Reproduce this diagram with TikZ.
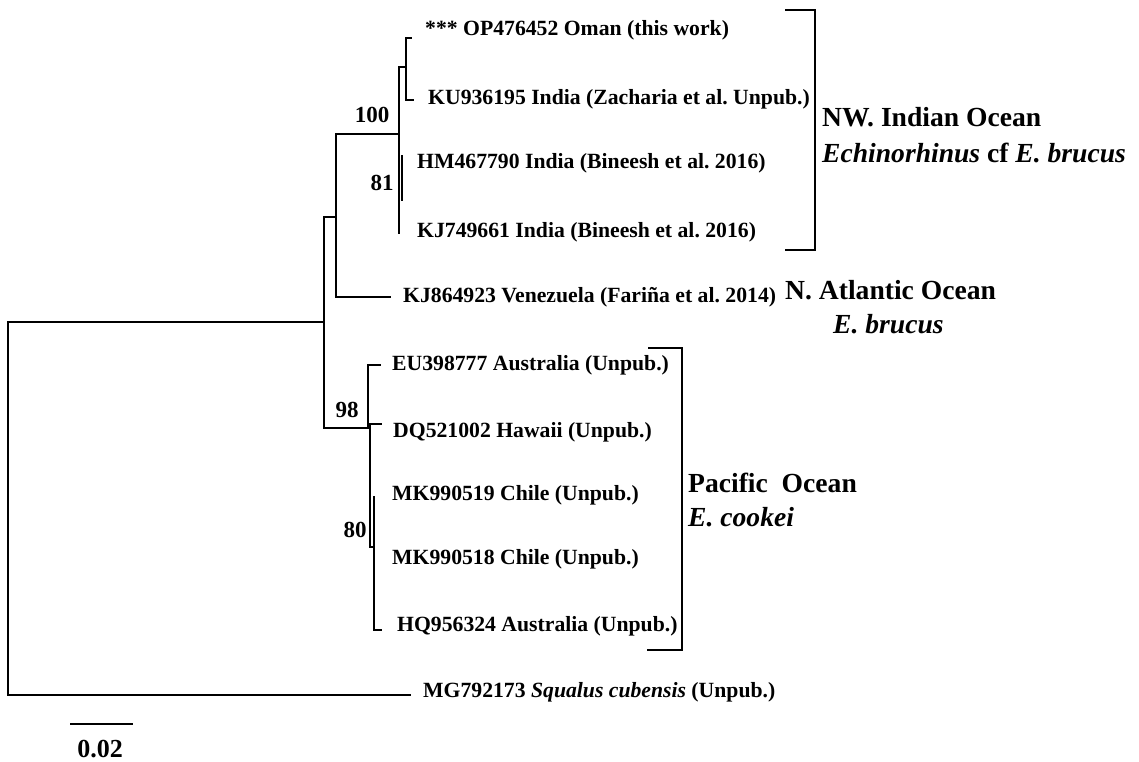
\documentclass[tikz,border=0pt]{standalone}
\usepackage{fontspec}
\setmainfont{Liberation Serif}
\begin{document}
\frenchspacing
\begin{tikzpicture}[x=1pt,y=1pt,
  br/.style={line width=2.5pt,line cap=rect,line join=miter},
  brk/.style={line width=2pt,line join=miter},
  leaf/.style={anchor=west,inner sep=0pt,font=\fontsize{21.7}{24}\selectfont\bfseries,text height=15pt,text depth=5pt},
  boot/.style={inner sep=0pt,font=\fontsize{23}{26}\selectfont\bfseries},
  grp/.style={anchor=west,inner sep=0pt,font=\fontsize{27.6}{30}\selectfont\bfseries,text height=19pt,text depth=6pt}]
\useasboundingbox (0,0) rectangle (1139,-762);
% coordinates of the tree
\coordinate (R0) at (8,-322);
\coordinate (R1) at (8,-695);
\coordinate (Otip) at (410,-695);
\coordinate (A0) at (324,-217);
\coordinate (A1) at (324,-322);
\coordinate (A2) at (324,-428);
\coordinate (B0) at (336,-134);
\coordinate (B1) at (336,-217);
\coordinate (B2) at (336,-297);
\coordinate (Katl) at (390,-297);
\coordinate (C0) at (399,-67);
\coordinate (C1) at (399,-134);
\coordinate (C2) at (399,-233);
\coordinate (D0) at (406,-38);
\coordinate (D1) at (406,-67);
\coordinate (D2) at (406,-100);
\coordinate (Toman) at (411,-38);
\coordinate (Tku) at (413,-100);
\coordinate (E0) at (402,-156);
\coordinate (E1) at (402,-200);
\coordinate (P0) at (368,-365);
\coordinate (P1) at (368,-428);
\coordinate (Teu) at (380,-365);
\coordinate (Q0) at (370,-424);
\coordinate (Q1) at (370,-547);
\coordinate (Q2) at (374,-547);
\coordinate (Tdq) at (381,-424);
\coordinate (S0) at (374,-497);
\coordinate (S1) at (374,-630);
\coordinate (Thq) at (381,-630);
% branches
\draw[br] (A1) -- (R0) -- (R1) -- (Otip);
\draw[br] (A0) -- (A2);
\draw[br] (A0) -- (B1);
\draw[br] (B0) -- (B2) -- (Katl);
\draw[br] (B0) -- (C1);
\draw[br] (C0) -- (C2);
\draw[br] (C0) -- (D1);
\draw[br] (Toman) -- (D0) -- (D2) -- (Tku);
\draw[br] (E0) -- (E1);
\draw[br] (A2) -- (P1) -- (P0) -- (Teu);
\draw[br] (Tdq) -- (Q0) -- (Q1) -- (Q2);
\draw[br] (S0) -- (S1) -- (Thq);
% leaf labels
\node[leaf] (l1) at (425,-31) {*** OP476452 Oman (this work)};
\node[leaf] (l2) at (428,-100) {KU936195 India (Zacharia et al. Unpub.)};
\node[leaf] (l3) at (417,-163) {HM467790 India (Bineesh et al. 2016)};
\node[leaf] (l4) at (417,-232) {KJ749661 India (Bineesh et al. 2016)};
\node[leaf] (l5) at (403,-297) {KJ864923 Venezuela (Fariña et al. 2014)};
\node[leaf] (l6) at (392,-365) {EU398777 Australia (Unpub.)};
\node[leaf] (l7) at (393,-432) {DQ521002 Hawaii (Unpub.)};
\node[leaf] (l8) at (392,-495) {MK990519 Chile (Unpub.)};
\node[leaf] (l9) at (392,-559) {MK990518 Chile (Unpub.)};
\node[leaf] (l10) at (397,-626) {HQ956324 Australia (Unpub.)};
\node[leaf] (l11) at (423,-692) {MG792173 \textit{Squalus cubensis} (Unpub.)};
% bootstrap values
\node[boot] (b100) at (372,-115) {100};
\node[boot] (b81) at (382,-183) {81};
\node[boot] (b98) at (347,-410) {98};
\node[boot] (b80) at (355,-530) {80};
% group brackets
\coordinate (G1a) at (785,-10);
\coordinate (G1b) at (815,-10);
\coordinate (G1c) at (815,-250);
\coordinate (G1d) at (785,-250);
\draw[brk] (G1a) -- (G1b) -- (G1c) -- (G1d);
\coordinate (G2a) at (648,-348);
\coordinate (G2b) at (682,-348);
\coordinate (G2c) at (682,-650);
\coordinate (G2d) at (647,-650);
\draw[brk] (G2a) -- (G2b) -- (G2c) -- (G2d);
% group labels
\node[grp] (g1) at (822,-120) {NW. Indian Ocean};
\node[grp] (g2) at (822,-156) {\textit{Echinorhinus} cf \textit{E. brucus}};
\node[grp] (g3) at (785,-293) {N. Atlantic Ocean};
\node[grp] (g4) at (833,-327) {\textit{E. brucus}};
\node[grp] (g5) at (688,-486) {Pacific\ \ Ocean};
\node[grp] (g6) at (688,-520) {\textit{E. cookei}};
% scale bar
\coordinate (sb0) at (70,-724);
\coordinate (sb1) at (133,-724);
\draw[line width=2.8pt] (sb0) -- (sb1);
\node[inner sep=0pt,font=\fontsize{26}{28}\selectfont\bfseries] (sbl) at (100,-749) {0.02};
\end{tikzpicture}
\end{document}
